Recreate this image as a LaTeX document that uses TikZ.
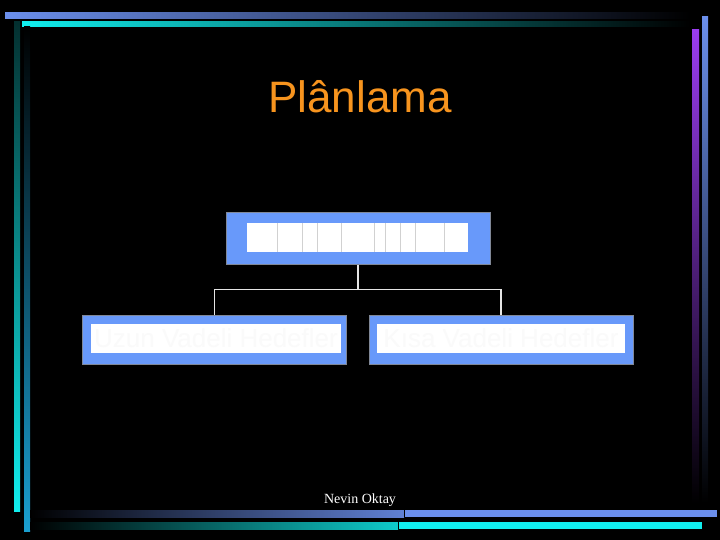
\documentclass[tikz,border=0pt]{standalone}
\usepackage{fontspec}
\setmainfont{Liberation Serif}
\newfontfamily\arialfont{Liberation Sans}
\usepackage{xcolor}
\usepackage{tikz}
\usetikzlibrary{positioning}
\definecolor{barblue}{RGB}{107,143,236}
\definecolor{barcyan}{RGB}{17,238,238}
\definecolor{bardeep}{RGB}{26,159,208}
\definecolor{barpurple}{RGB}{154,60,240}
\definecolor{frameblue}{RGB}{104,153,250}
\definecolor{framegray}{RGB}{128,136,152}
\definecolor{titleorange}{RGB}{247,148,30}
\tikzstyle{outerbox} = [rectangle, minimum width=264, minimum height=49, draw=framegray, line width=1pt, fill=frameblue]
\tikzstyle{innerbox} = [rectangle, inner sep=0pt, minimum width=250, minimum height=29, fill=white, text=black!2, font=\arialfont\fontsize{26}{28}\selectfont]
\tikzstyle{tofu} = [draw=black!18, line width=0.6pt]
\tikzstyle{link} = [draw=black!10, line width=1.6pt]

\begin{document}
\begin{tikzpicture}[x=1pt, y=1pt, node distance=101]

% Background and frame bars
\fill [black] (0,0) rectangle (720,-540);
\useasboundingbox (0,0) rectangle (720,-540);
\shade [left color=barblue, right color=black] (5,-13) rectangle (690,-19);
\shade [left color=barcyan, right color=black] (22,-22) rectangle (690,-27);
\shade [top color=black!80!barcyan, bottom color=barcyan] (14,-22) rectangle (20,-511);
\shade [top color=black, bottom color=bardeep] (24,-27) rectangle (30,-531);
\shade [top color=barpurple, bottom color=black] (692,-30) rectangle (699,-503);
\shade [top color=barblue, bottom color=black] (702,-17) rectangle (708,-503);
\shade [left color=black, right color=barblue!90!black] (30,-510) rectangle (404,-517);
\fill [barblue] (404,-510) rectangle (717,-517);
\shade [left color=black, right color=barcyan!85!black] (30,-522) rectangle (398,-529);
\fill [barcyan] (398,-522) rectangle (702,-529);
\draw [black, line width=0.8pt] (404,-510) -- (404,-517);
\draw [black, line width=0.8pt] (398,-522) -- (398,-529);

% Title and footer
\node (title) [text=titleorange, font=\arialfont\fontsize{44}{50}\selectfont] at (360,-97) {Plânlama};
\node (author) [anchor=base, text=white, font=\fontsize{14}{16}\selectfont] at (360,-503) {Nevin Oktay};

% Main Components
\node (plan) [outerbox, minimum height=51] at (358,-238.5) {};
\node (planin) [innerbox, minimum width=221] at (357.5,-237.5) {};
\foreach \sx in {30,55,70,94,127,138,153,168,197}
  \draw [tofu] ([xshift=\sx]planin.north west) -- ([xshift=\sx]planin.south west);
\node (uzun) [outerbox, below of=plan, xshift=-143.5] {};
\node (uzunin) [innerbox, xshift=1.5, yshift=1] at (uzun.center) {Uzun Vadeli Hedefler};
\node (kisa) [outerbox, below of=plan, xshift=143] {};
\node (kisain) [innerbox, minimum width=248, yshift=1] at (kisa.center) {Kısa Vadeli Hedefler};

% Connections
\draw [link] (plan.south) -- ++(0,-25) coordinate (split);
\draw [link] (split) -| (uzun.north);
\draw [link] (split) -| (kisa.north);

\end{tikzpicture}
\end{document}
